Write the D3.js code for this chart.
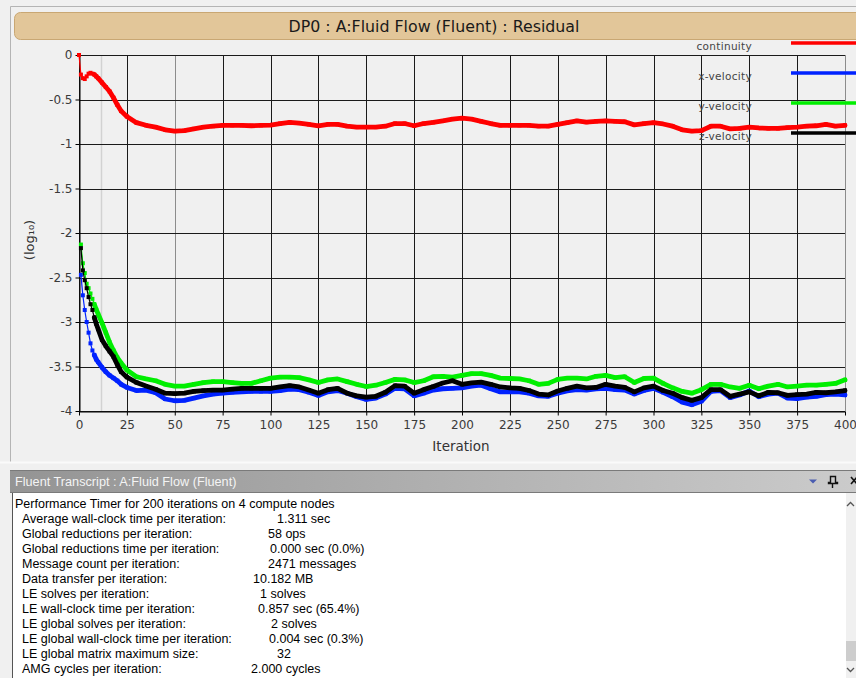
<!DOCTYPE html>
<html>
<head>
<meta charset="utf-8">
<script src="https://cdn.jsdelivr.net/npm/d3@7"></script>
<style>
  html, body { margin: 0; padding: 0; background: #f0f0f0; }
  svg { display: block; }
</style>
</head>
<body>
<svg id="chart" width="856" height="678"></svg>
<script>
// Residual history: log10 of each residual against solver iteration
const iterations = [0,1,2,3,4,5,6,7,8,9,10,12,14,16,18,20,22,25,30,35,40,45,50,55,60,65,70,75,80,85,90,95,100,
  105,110,115,120,125,130,135,140,145,150,155,160,165,170,175,180,185,190,195,200,
  205,210,215,220,225,230,235,240,245,250,255,260,265,270,275,280,285,290,295,300,
  305,310,315,320,325,330,335,340,345,350,355,360,365,370,375,380,385,390,395,400];

const continuity = [0,-0.22,-0.26,-0.27,-0.24,-0.21,-0.20,-0.21,-0.22,-0.24,-0.26,-0.31,-0.36,-0.41,-0.48,-0.56,-0.63,-0.69,-0.76,-0.79,-0.81,-0.84,-0.855,-0.85,-0.83,-0.81,-0.80,-0.79,-0.79,-0.79,-0.795,-0.79,-0.787,
  -0.77,-0.757,-0.765,-0.78,-0.795,-0.78,-0.78,-0.80,-0.81,-0.81,-0.81,-0.80,-0.77,-0.77,-0.795,-0.77,-0.757,-0.74,-0.72,-0.71,
  -0.72,-0.745,-0.77,-0.79,-0.79,-0.79,-0.79,-0.80,-0.80,-0.78,-0.76,-0.74,-0.755,-0.745,-0.74,-0.745,-0.75,-0.785,-0.77,-0.76,
  -0.775,-0.80,-0.84,-0.855,-0.85,-0.80,-0.80,-0.83,-0.825,-0.81,-0.82,-0.825,-0.825,-0.815,-0.81,-0.80,-0.795,-0.78,-0.80,-0.79];

const xVelocity = [null,-2.47,-2.70,-2.865,-3.00,-3.12,-3.24,-3.32,-3.37,-3.42,-3.45,-3.51,-3.56,-3.60,-3.63,-3.66,-3.70,-3.735,-3.77,-3.765,-3.795,-3.865,-3.885,-3.88,-3.855,-3.83,-3.81,-3.80,-3.79,-3.785,-3.78,-3.78,-3.78,
  -3.77,-3.755,-3.76,-3.79,-3.825,-3.785,-3.77,-3.80,-3.84,-3.87,-3.855,-3.81,-3.745,-3.75,-3.83,-3.80,-3.765,-3.75,-3.745,-3.74,
  -3.72,-3.71,-3.75,-3.785,-3.785,-3.785,-3.80,-3.83,-3.835,-3.80,-3.775,-3.76,-3.765,-3.75,-3.745,-3.76,-3.765,-3.81,-3.77,-3.745,
  -3.79,-3.84,-3.90,-3.93,-3.89,-3.78,-3.77,-3.85,-3.82,-3.775,-3.84,-3.81,-3.80,-3.855,-3.86,-3.845,-3.835,-3.815,-3.81,-3.82];

const yVelocity = [null,-2.13,-2.34,-2.45,-2.57,-2.62,-2.68,-2.74,-2.80,-2.86,-2.91,-3.01,-3.12,-3.23,-3.32,-3.40,-3.46,-3.54,-3.615,-3.64,-3.66,-3.70,-3.72,-3.72,-3.70,-3.68,-3.67,-3.67,-3.68,-3.69,-3.69,-3.66,-3.63,
  -3.62,-3.62,-3.626,-3.65,-3.68,-3.65,-3.64,-3.67,-3.70,-3.725,-3.71,-3.68,-3.645,-3.65,-3.68,-3.66,-3.615,-3.61,-3.62,-3.60,
  -3.58,-3.58,-3.60,-3.63,-3.635,-3.64,-3.66,-3.70,-3.69,-3.645,-3.63,-3.63,-3.64,-3.61,-3.60,-3.625,-3.615,-3.68,-3.635,-3.63,
  -3.69,-3.74,-3.78,-3.80,-3.76,-3.70,-3.70,-3.73,-3.745,-3.71,-3.75,-3.72,-3.70,-3.73,-3.72,-3.71,-3.71,-3.70,-3.69,-3.65];

const zVelocity = [null,-2.17,-2.42,-2.53,-2.62,-2.72,-2.80,-2.865,-2.95,-3.02,-3.08,-3.20,-3.27,-3.33,-3.39,-3.48,-3.56,-3.62,-3.68,-3.72,-3.755,-3.80,-3.805,-3.80,-3.78,-3.77,-3.765,-3.765,-3.755,-3.745,-3.745,-3.745,-3.745,
  -3.73,-3.715,-3.73,-3.765,-3.80,-3.76,-3.745,-3.80,-3.83,-3.845,-3.835,-3.79,-3.715,-3.72,-3.80,-3.76,-3.725,-3.685,-3.66,-3.70,
  -3.685,-3.675,-3.70,-3.73,-3.74,-3.745,-3.77,-3.81,-3.82,-3.775,-3.745,-3.72,-3.74,-3.735,-3.70,-3.72,-3.735,-3.785,-3.74,-3.72,
  -3.77,-3.80,-3.85,-3.88,-3.85,-3.76,-3.76,-3.835,-3.81,-3.785,-3.83,-3.79,-3.795,-3.825,-3.815,-3.81,-3.79,-3.795,-3.785,-3.77];

const seriesNames = ["continuity", "x-velocity", "y-velocity", "z-velocity"];
const seriesColors = ["#ff0000", "#0022ff", "#00ee00", "#000000"];
const seriesValues = [continuity, xVelocity, yVelocity, zVelocity];

const xTicks = d3.range(0, 401, 25);
const yTicks = [0, -0.5, -1, -1.5, -2, -2.5, -3, -3.5, -4];

const chartTitle = "DP0 : A:Fluid Flow (Fluent) : Residual";
const xTitle = "Iteration";
const panelTitle = "Fluent Transcript : A:Fluid Flow (Fluent)";
const transcriptHeader = "Performance Timer for 200 iterations on 4 compute nodes";
const transcriptLabels = [
  "Average wall-clock time per iteration:",
  "Global reductions per iteration:",
  "Global reductions time per iteration:",
  "Message count per iteration:",
  "Data transfer per iteration:",
  "LE solves per iteration:",
  "LE wall-clock time per iteration:",
  "LE global solves per iteration:",
  "LE global wall-clock time per iteration:",
  "LE global matrix maximum size:",
  "AMG cycles per iteration:"
];
const transcriptValues = [
  "1.311 sec", "58 ops", "0.000 sec (0.0%)", "2471 messages", "10.182 MB", "1 solves",
  "0.857 sec (65.4%)", "2 solves", "0.004 sec (0.3%)", "32", "2.000 cycles"
];

// ---------------------------------------------------------------------------
const svg = d3.select("#chart");
const W = 856, H = 678;
const plot = { left: 79, right: 845, top: 55, bottom: 411 };

svg.append("rect").attr("width", W).attr("height", H).attr("fill", "#f0f0f0");

// window frame
svg.append("path")
  .attr("d", `M10.5,462 V6.5 H856`)
  .attr("fill", "none").attr("stroke", "#b4b4b4");

// title bar
svg.append("rect")
  .attr("x", 14.5).attr("y", 12.5).attr("width", 860).attr("height", 27).attr("rx", 6)
  .attr("fill", "#e2c699").attr("stroke", "#c9a773");
svg.append("text")
  .attr("x", 434).attr("y", 31.5).attr("text-anchor", "middle")
  .attr("font-family", "DejaVu Sans, sans-serif").attr("font-size", 15.8).attr("fill", "#1a1a1a")
  .text(chartTitle);

const x = d3.scaleLinear().domain([0, 400]).range([plot.left, plot.right]);
const y = d3.scaleLinear().domain([-4, 0]).range([plot.bottom, plot.top]);

// grid
const grid = svg.append("g");
grid.selectAll("line.v").data(xTicks).join("line")
  .attr("x1", d => Math.round(x(d)) + 0.5).attr("x2", d => Math.round(x(d)) + 0.5)
  .attr("y1", plot.top).attr("y2", plot.bottom)
  .attr("stroke", d => (d === 50 || d === 400) ? "#8c8c8c" : "#1a1a1a").attr("stroke-width", 1);
grid.append("line")
  .attr("x1", Math.round(x(11.5)) + 0.5).attr("x2", Math.round(x(11.5)) + 0.5)
  .attr("y1", plot.top).attr("y2", plot.bottom)
  .attr("stroke", "#d2d2d2").attr("stroke-width", 1.5);
grid.selectAll("line.h").data(yTicks).join("line")
  .attr("x1", plot.left).attr("x2", plot.right)
  .attr("y1", d => Math.round(y(d)) + 0.5).attr("y2", d => Math.round(y(d)) + 0.5)
  .attr("stroke", "#1a1a1a").attr("stroke-width", 1);

// axes
const xAxis = svg.append("g").attr("transform", `translate(0,${Math.round(plot.bottom) + 0.5})`)
  .call(d3.axisBottom(x).tickValues(xTicks).tickSize(4).tickSizeOuter(0).tickPadding(3));
const yAxis = svg.append("g").attr("transform", `translate(${plot.left + 0.5},0)`)
  .call(d3.axisLeft(y).tickValues(yTicks).tickSize(4).tickSizeOuter(0).tickPadding(3)
    .tickFormat(d => d === 0 ? "0" : String(d)));
[xAxis, yAxis].forEach(a => {
  a.select(".domain").attr("stroke", "#000");
  a.selectAll(".tick line").attr("stroke", "#000");
  a.selectAll(".tick text").attr("fill", "#3a3a3a")
    .attr("font-family", "DejaVu Sans, sans-serif").attr("font-size", 12);
});
xAxis.selectAll(".tick text").attr("dy", "0.85em");

svg.append("text")
  .attr("x", 461).attr("y", 451).attr("text-anchor", "middle")
  .attr("font-family", "DejaVu Sans, sans-serif").attr("font-size", 13.5).attr("fill", "#333")
  .text(xTitle);
svg.append("text")
  .attr("transform", "translate(34,240) rotate(-90)").attr("text-anchor", "middle")
  .attr("font-family", "DejaVu Sans, sans-serif").attr("font-size", 13).attr("fill", "#333")
  .text("(log₁₀)");

// residual curves
const line = d3.line()
  .defined((d) => d.v !== null)
  .x(d => x(d.i)).y(d => y(d.v));

seriesValues.forEach((vals, k) => {
  const pts = iterations.map((it, j) => ({ i: it, v: vals[j] }));
  const dense = pts.filter(p => p.i >= 8);
  const g = svg.append("g");
  g.append("path").datum(pts).attr("d", line)
    .attr("fill", "none").attr("stroke", seriesColors[k]).attr("stroke-width", 1.2);
  g.append("path").datum(dense).attr("d", line)
    .attr("fill", "none").attr("stroke", seriesColors[k]).attr("stroke-width", 4.8)
    .attr("stroke-linejoin", "round").attr("stroke-linecap", "round");
  g.selectAll("rect").data(pts.filter(p => p.v !== null)).join("rect")
    .attr("x", d => x(d.i) - 2).attr("y", d => y(d.v) - 2)
    .attr("width", 4).attr("height", 4).attr("fill", seriesColors[k]);
});

// legend
const legend = svg.append("g");
seriesNames.forEach((name, k) => {
  const ly = 43 + k * 30;
  legend.append("text")
    .attr("x", 752).attr("y", ly + 7).attr("text-anchor", "end")
    .attr("font-family", "DejaVu Sans, sans-serif").attr("font-size", 10.5).attr("fill", "#444")
    .attr("letter-spacing", 0.3)
    .text(name);
  legend.append("line")
    .attr("x1", 791).attr("x2", 856).attr("y1", ly).attr("y2", ly)
    .attr("stroke", seriesColors[k]).attr("stroke-width", 3.5);
});

// transcript panel
const defs = svg.append("defs");
const grad = defs.append("linearGradient").attr("id", "hdr").attr("x1", 0).attr("x2", 1);
grad.append("stop").attr("offset", 0).attr("stop-color", "#949494");
grad.append("stop").attr("offset", 1).attr("stop-color", "#cbcbcb");

svg.append("line").attr("x1", 0).attr("x2", W).attr("y1", 462.5).attr("y2", 462.5)
  .attr("stroke", "#fafafa").attr("stroke-width", 2);
svg.append("rect").attr("x", 10).attr("y", 470).attr("width", W - 10).attr("height", 23)
  .attr("fill", "url(#hdr)");
svg.append("line").attr("x1", 10).attr("x2", W).attr("y1", 470.5).attr("y2", 470.5).attr("stroke", "#7a7a7a");
svg.append("line").attr("x1", 10).attr("x2", W).attr("y1", 492.5).attr("y2", 492.5).attr("stroke", "#7a7a7a");
svg.append("text").attr("x", 15).attr("y", 486)
  .attr("font-family", "Liberation Sans, Arial, sans-serif").attr("font-size", 12.7).attr("fill", "#f4f4f4")
  .text(panelTitle);
// header icons
svg.append("path").attr("d", "M809,479.5 h8 l-4,4 z").attr("fill", "#4a5cb0");
svg.append("path").attr("d", "M830.5,476.5 h5 v6 h2 v1 h-9 v-1 h2 z M832.5,484 v4")
  .attr("fill", "none").attr("stroke", "#111").attr("stroke-width", 1.4);
svg.append("path").attr("d", "M851,477 l6,7 M857,477 l-6,7")
  .attr("stroke", "#111").attr("stroke-width", 1.6);

// text area
svg.append("rect").attr("x", 12).attr("y", 493).attr("width", W - 12).attr("height", H - 493).attr("fill", "#ffffff");
svg.append("line").attr("x1", 12.5).attr("x2", 12.5).attr("y1", 493).attr("y2", H).attr("stroke", "#555");
// scrollbar
svg.append("rect").attr("x", 846).attr("y", 493).attr("width", 10).attr("height", H - 493).attr("fill", "#f0f0f0");
svg.append("rect").attr("x", 846).attr("y", 641).attr("width", 10).attr("height", 20).attr("fill", "#cdcdcd");
svg.append("path").attr("d", "M847,506 l3.5,-3.5 l3.5,3.5").attr("fill", "none").attr("stroke", "#555").attr("stroke-width", 1.3);
svg.append("path").attr("d", "M847,668 l3.5,3.5 l3.5,-3.5").attr("fill", "none").attr("stroke", "#555").attr("stroke-width", 1.3);

const tFont = "Liberation Sans, Arial, sans-serif";
const tSize = 12.5;
const rowY0 = 508, rowStep = 15;
const valueX = [277, 268, 270, 268, 253, 260, 258, 271, 269, 277, 251];
svg.append("text").attr("x", 15).attr("y", rowY0)
  .attr("font-family", tFont).attr("font-size", tSize).attr("fill", "#000").text(transcriptHeader);
transcriptLabels.forEach((lab, k) => {
  const ty = rowY0 + (k + 1) * rowStep;
  svg.append("text").attr("x", 22).attr("y", ty)
    .attr("font-family", tFont).attr("font-size", tSize).attr("fill", "#000").text(lab);
  svg.append("text").attr("x", valueX[k]).attr("y", ty)
    .attr("font-family", tFont).attr("font-size", tSize).attr("fill", "#000").text(transcriptValues[k]);
});
</script>
</body>
</html>
